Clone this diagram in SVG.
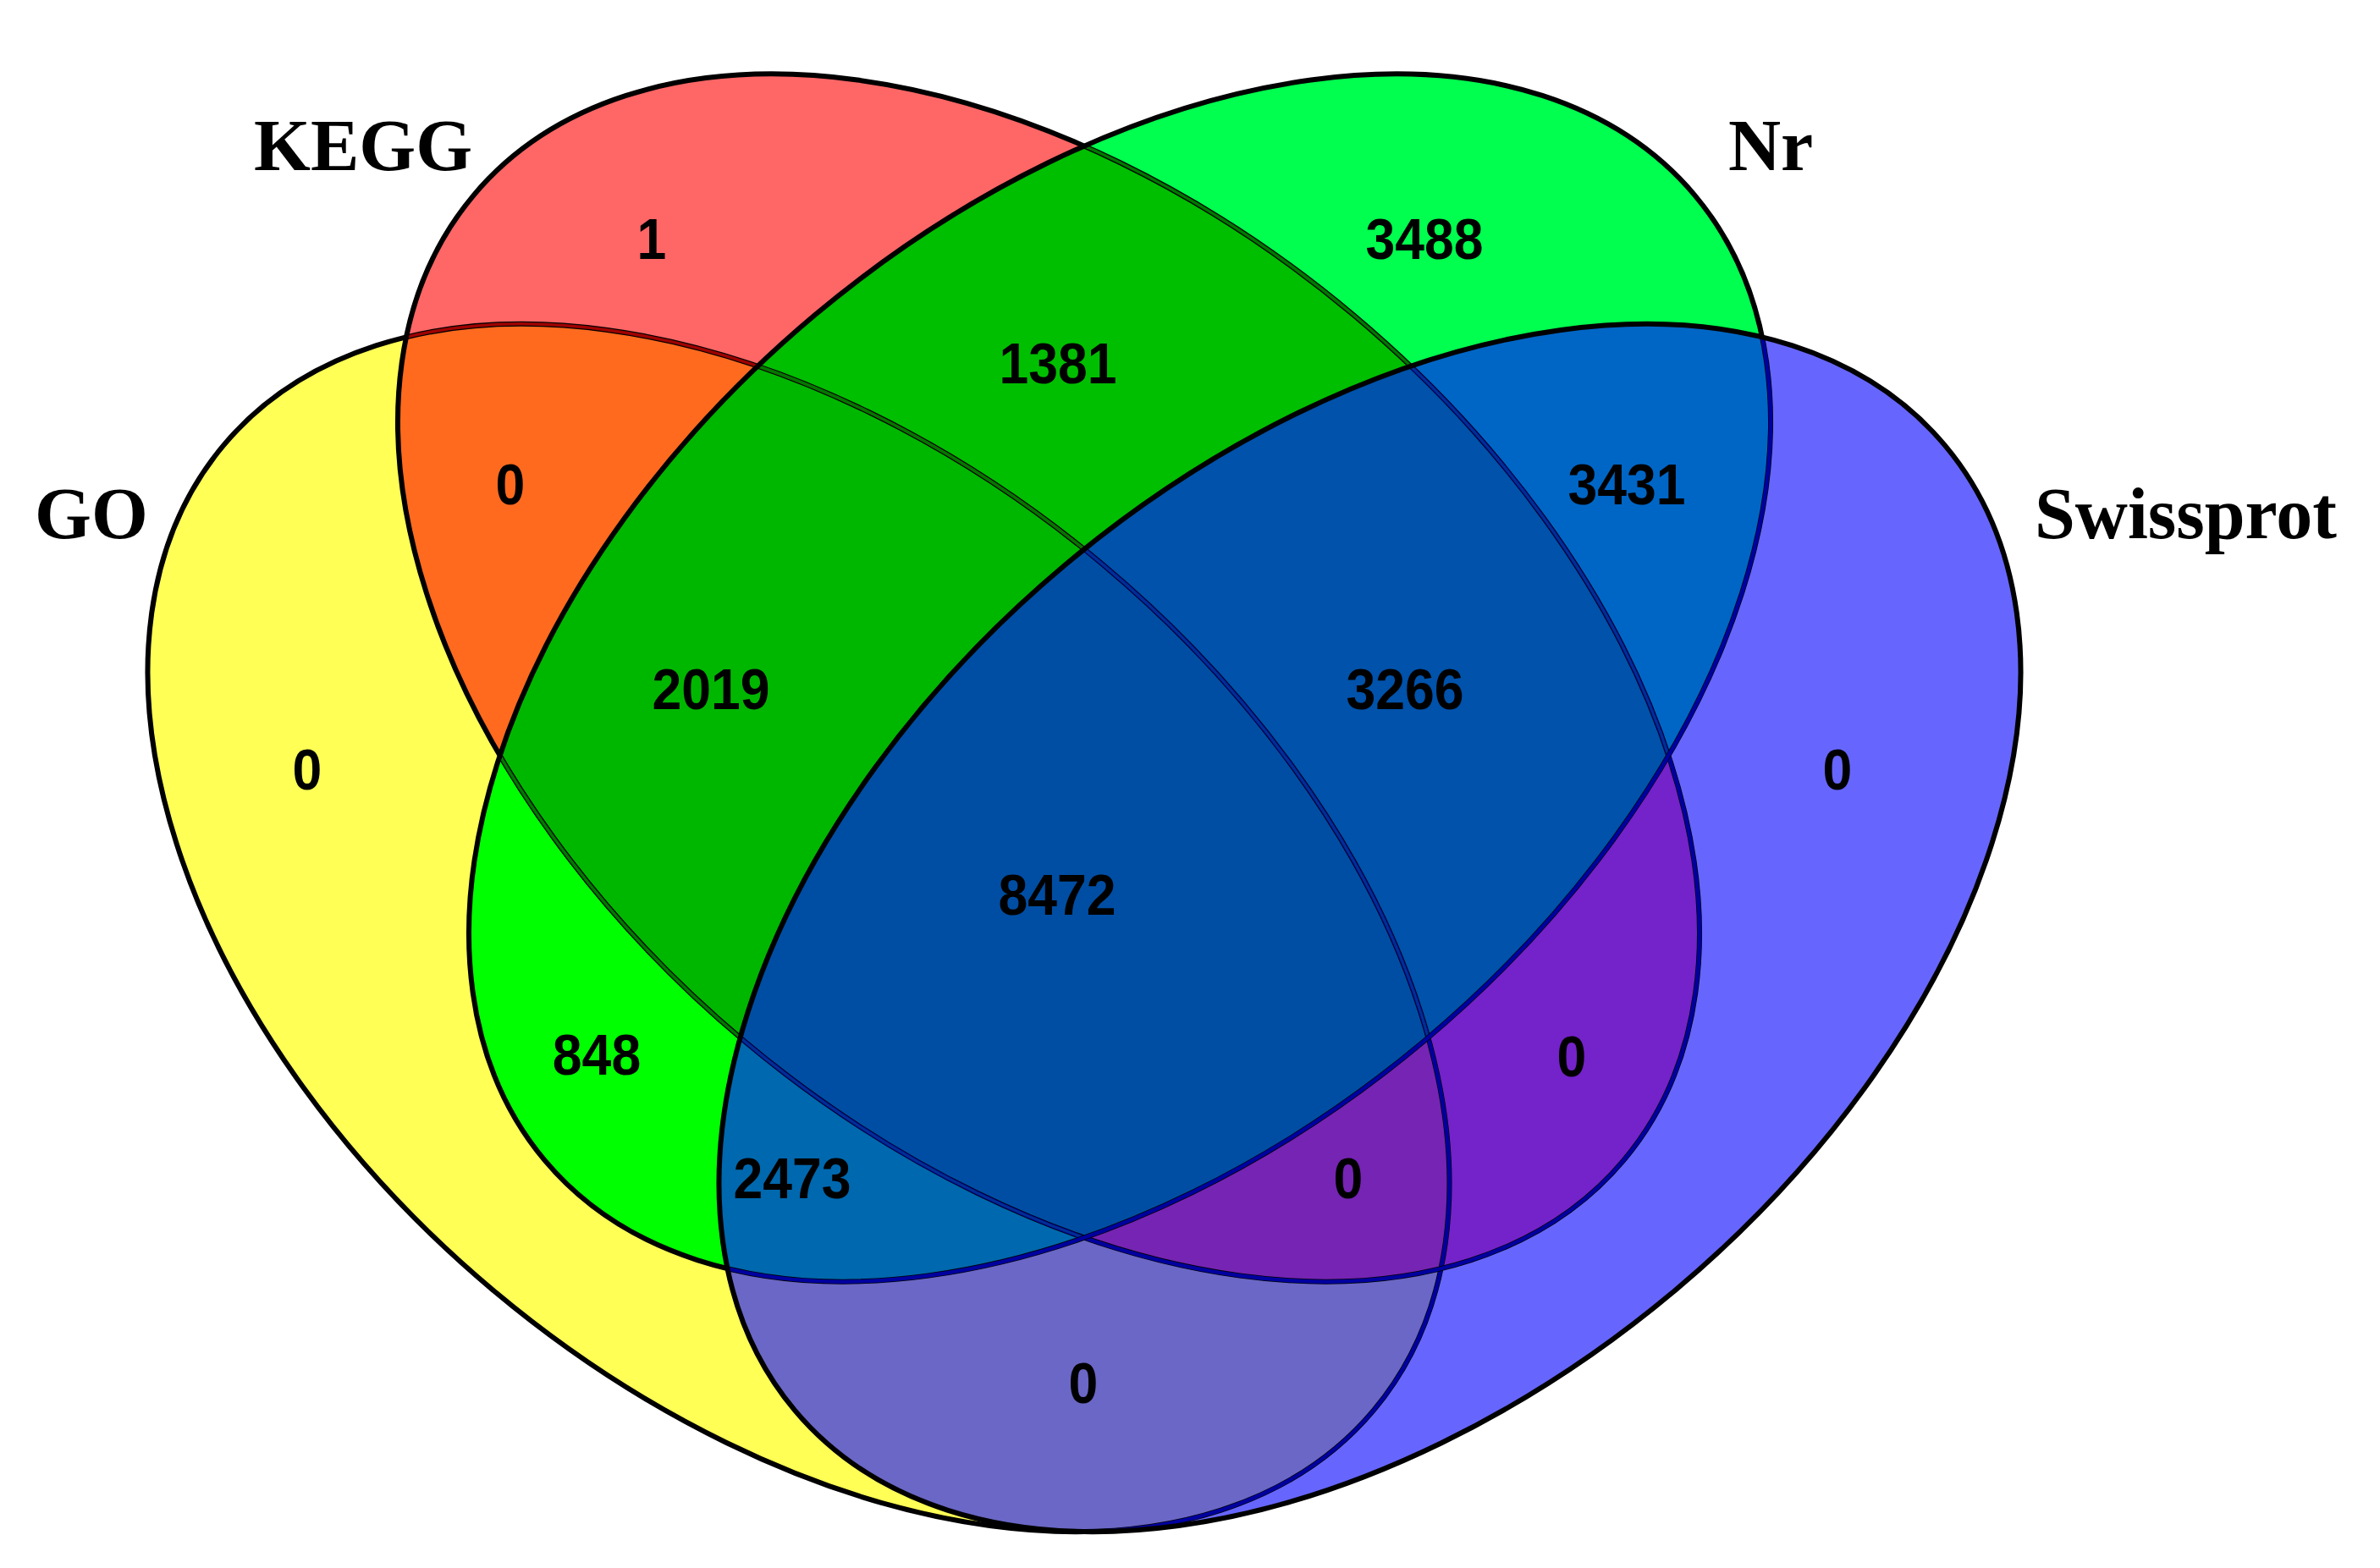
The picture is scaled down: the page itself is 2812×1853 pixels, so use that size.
<svg xmlns="http://www.w3.org/2000/svg" xmlns:xlink="http://www.w3.org/1999/xlink" width="2812" height="1853" viewBox="0 0 2812 1853">
<style>
.lbl{font-family:"Liberation Serif","Times New Roman",serif;font-weight:bold;font-size:86px;fill:#000}
.num{font-family:"Liberation Sans",Arial,sans-serif;font-weight:bold;font-size:68px;fill:#000;text-anchor:middle}
.out{fill:none;stroke:#000;stroke-width:6}
.tr{fill:none;stroke:#A00000;stroke-width:3.5}
.tg{fill:none;stroke:#007800;stroke-width:3.5}
.tb{fill:none;stroke:#0000A0;stroke-width:4.5}
.tgb{fill:none;stroke:#00308F;stroke-width:3}
</style>
<defs>
<ellipse id="eY" cx="943.5" cy="1096.5" rx="887" ry="560" transform="rotate(40 943.5 1096.5)"/>
<ellipse id="eR" cx="1239" cy="801" rx="887" ry="560" transform="rotate(40 1239 801)"/>
<ellipse id="eG" cx="1323" cy="801" rx="887" ry="560" transform="rotate(-40 1323 801)"/>
<ellipse id="eB" cx="1618.5" cy="1096.5" rx="887" ry="560" transform="rotate(-40 1618.5 1096.5)"/>
<clipPath id="cY"><use xlink:href="#eY"/></clipPath>
<clipPath id="cR"><use xlink:href="#eR"/></clipPath>
<clipPath id="cG"><use xlink:href="#eG"/></clipPath>
<clipPath id="cB"><use xlink:href="#eB"/></clipPath>
</defs>
<rect width="2812" height="1853" fill="#fff"/>
<g id="fills">
<use xlink:href="#eY" fill="#FFFF55"/>
<use xlink:href="#eR" fill="#FF6666"/>
<use xlink:href="#eG" fill="#00FF4E"/>
<use xlink:href="#eB" fill="#6666FF"/>
<g clip-path="url(#cY)"><use xlink:href="#eR" fill="#FF6A1E"/></g>
<g clip-path="url(#cY)"><use xlink:href="#eG" fill="#00FF00"/></g>
<g clip-path="url(#cY)"><use xlink:href="#eB" fill="#6A67C6"/></g>
<g clip-path="url(#cR)"><use xlink:href="#eG" fill="#00BF00"/></g>
<g clip-path="url(#cR)"><use xlink:href="#eB" fill="#7422C9"/></g>
<g clip-path="url(#cG)"><use xlink:href="#eB" fill="#0066C6"/></g>
<g clip-path="url(#cY)"><g clip-path="url(#cR)"><use xlink:href="#eG" fill="#00B700"/></g></g>
<g clip-path="url(#cY)"><g clip-path="url(#cR)"><use xlink:href="#eB" fill="#7524B4"/></g></g>
<g clip-path="url(#cY)"><g clip-path="url(#cG)"><use xlink:href="#eB" fill="#0068AE"/></g></g>
<g clip-path="url(#cR)"><g clip-path="url(#cG)"><use xlink:href="#eB" fill="#0052AA"/></g></g>
<g clip-path="url(#cY)"><g clip-path="url(#cR)"><g clip-path="url(#cG)"><use xlink:href="#eB" fill="#004EA3"/></g></g></g>
</g>
<g id="outlines">
<use xlink:href="#eY" class="out"/>
<g clip-path="url(#cR)"><use xlink:href="#eY" class="tr"/></g>
<g clip-path="url(#cG)"><use xlink:href="#eY" class="tg"/></g>
<g clip-path="url(#cB)"><use xlink:href="#eY" class="tb"/></g>
<g clip-path="url(#cG)"><g clip-path="url(#cB)"><use xlink:href="#eY" class="tgb"/></g></g>
<use xlink:href="#eR" class="out"/>
<g clip-path="url(#cG)"><use xlink:href="#eR" class="tg"/></g>
<g clip-path="url(#cB)"><use xlink:href="#eR" class="tb"/></g>
<g clip-path="url(#cG)"><g clip-path="url(#cB)"><use xlink:href="#eR" class="tgb"/></g></g>
<use xlink:href="#eG" class="out"/>
<g clip-path="url(#cB)"><use xlink:href="#eG" class="tb"/></g>
<use xlink:href="#eB" class="out"/>
</g>
<g id="set-GO"><text class="lbl" x="41" y="636">GO</text></g>
<g id="set-KEGG"><text class="lbl" x="300" y="201">KEGG</text></g>
<g id="set-Nr"><text class="lbl" x="2042" y="201">Nr</text></g>
<g id="set-Swissprot"><text class="lbl" x="2404" y="636">Swissprot</text></g>
<g id="counts">
<text class="num" transform="translate(770 306) scale(0.92 1)">1</text>
<text class="num" transform="translate(1683 306) scale(0.92 1)">3488</text>
<text class="num" transform="translate(1250 453) scale(0.92 1)">1381</text>
<text class="num" transform="translate(603 596) scale(0.92 1)">0</text>
<text class="num" transform="translate(1922 596) scale(0.92 1)">3431</text>
<text class="num" transform="translate(840 838) scale(0.92 1)">2019</text>
<text class="num" transform="translate(1660 838) scale(0.92 1)">3266</text>
<text class="num" transform="translate(363 933) scale(0.92 1)">0</text>
<text class="num" transform="translate(2171 933) scale(0.92 1)">0</text>
<text class="num" transform="translate(1249 1081) scale(0.92 1)">8472</text>
<text class="num" transform="translate(705 1270) scale(0.92 1)">848</text>
<text class="num" transform="translate(1857 1272) scale(0.92 1)">0</text>
<text class="num" transform="translate(936 1416) scale(0.92 1)">2473</text>
<text class="num" transform="translate(1593 1416) scale(0.92 1)">0</text>
<text class="num" transform="translate(1280 1658) scale(0.92 1)">0</text>
</g>
</svg>
